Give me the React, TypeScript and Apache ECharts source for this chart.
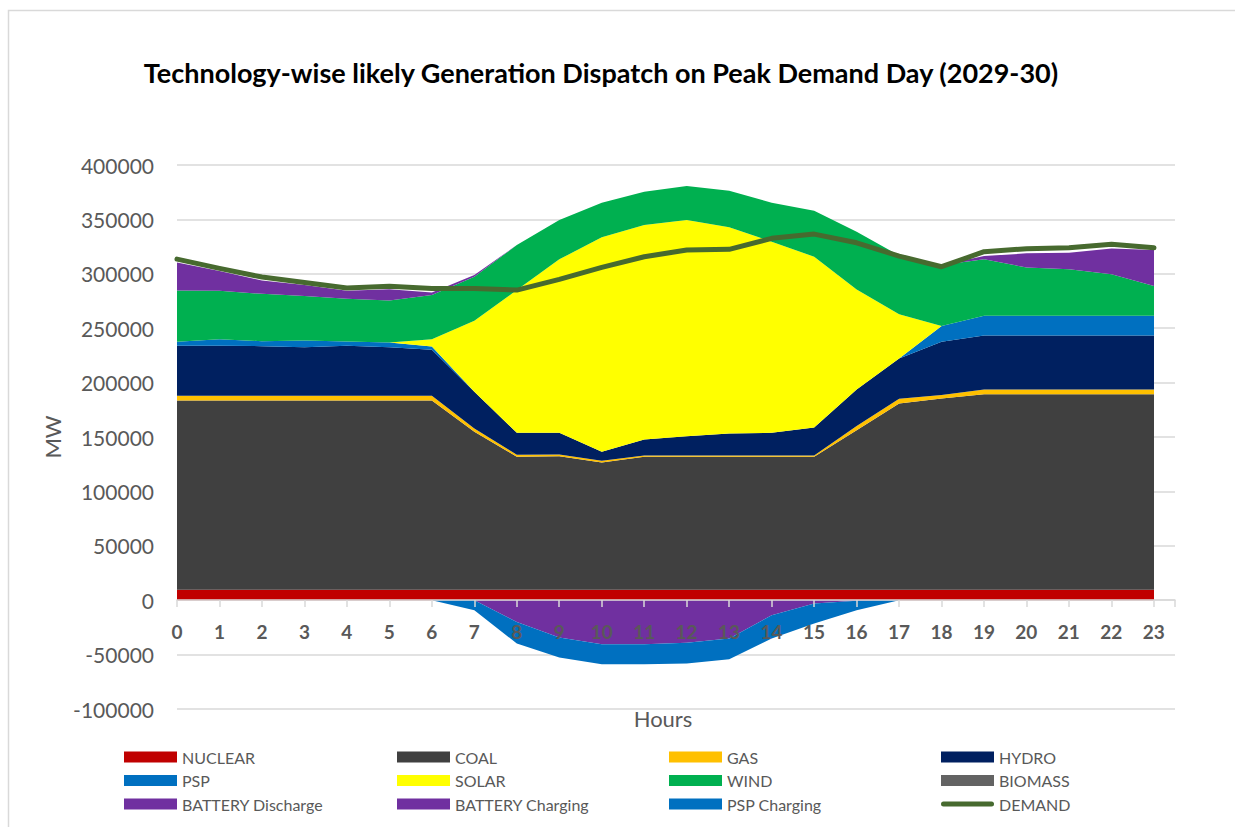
import React, { useEffect, useRef } from "react";
import * as echarts from "echarts";

const hours = [0, 1, 2, 3, 4, 5, 6, 7, 8, 9, 10, 11, 12, 13, 14, 15, 16, 17, 18, 19, 20, 21, 22, 23];

const nuclear = [9500, 9500, 9500, 9500, 9500, 9500, 9500, 9500, 9500, 9500, 9500, 9500, 9500, 9500, 9500, 9500, 9500, 9500, 9500, 9500, 9500, 9500, 9500, 9500];
const coal = [174000, 174000, 174000, 174000, 174000, 174000, 174000, 145300, 122300, 122900, 117100, 122300, 122300, 122300, 122300, 122300, 146800, 171400, 176000, 179900, 179900, 179900, 179900, 179900];
const gas = [4300, 4300, 4300, 4300, 4300, 4300, 4300, 3100, 1800, 1600, 1500, 1300, 1300, 1300, 1300, 1300, 3700, 4200, 3100, 4300, 4300, 4300, 4300, 4300];
const hydro = [46000, 46000, 45700, 44800, 46000, 44800, 42300, 33700, 20200, 19900, 8300, 14700, 17700, 20200, 20800, 25700, 33700, 37100, 49000, 49700, 49700, 49700, 49700, 49700];
const psp = [3700, 6000, 4600, 6000, 4000, 4200, 3000, 0, 0, 0, 0, 0, 0, 0, 0, 0, 0, 0, 14400, 18000, 18000, 18000, 18000, 18000];
const solar = [0, 0, 0, 0, 0, 0, 6800, 65300, 131200, 159400, 197100, 197000, 198600, 189400, 175600, 156900, 91900, 40700, 0, 0, 0, 0, 0, 0];
const wind = [47200, 44700, 43500, 41100, 39200, 38600, 40700, 40500, 41400, 36100, 31800, 30600, 31300, 33700, 35900, 42300, 53000, 54000, 56100, 51900, 44500, 42700, 38300, 27300];
const biomass = [0, 0, 0, 0, 0, 0, 0, 0, 0, 0, 0, 0, 0, 0, 0, 0, 0, 0, 0, 0, 0, 0, 0, 0];
const batteryDischarge = [25700, 18000, 12200, 10100, 7400, 10500, 2100, 1500, 0, 0, 0, 0, 0, 0, 0, 0, 0, 0, 0, 3000, 12900, 15300, 23600, 33100];
const batteryCharging = [0, 0, 0, 0, 0, 0, 0, 0, -20000, -34300, -40500, -40500, -39200, -35200, -13800, -3000, -600, 0, 0, 0, 0, 0, 0, 0];
const pspCharging = [0, 0, 0, 0, 0, 0, 0, -9200, -19800, -18400, -18300, -18300, -19000, -19100, -21400, -18400, -8600, 0, 0, 0, 0, 0, 0, 0];
const demand = [313500, 305000, 297000, 292000, 287000, 288500, 286600, 286600, 285000, 294900, 305900, 315700, 321800, 322500, 332600, 336500, 328500, 316300, 306500, 320300, 323000, 323900, 327100, 323900];

const yMin = -100000;
const yMax = 400000;
const yStep = 50000;

const FONT = "Lato, 'Noto Sans', sans-serif";
const GREY = "#595959";

type AreaDef = { name: string; data: number[]; color: string; stack: string };
const areas: AreaDef[] = [
  { name: "NUCLEAR", data: nuclear, color: "#C00000", stack: "pos" },
  { name: "COAL", data: coal, color: "#404040", stack: "pos" },
  { name: "GAS", data: gas, color: "#FFC000", stack: "pos" },
  { name: "HYDRO", data: hydro, color: "#002060", stack: "pos" },
  { name: "PSP", data: psp, color: "#0070C0", stack: "pos" },
  { name: "SOLAR", data: solar, color: "#FFFF00", stack: "pos" },
  { name: "WIND", data: wind, color: "#00B050", stack: "pos" },
  { name: "BIOMASS", data: biomass, color: "#636363", stack: "pos" },
  { name: "BATTERY Discharge", data: batteryDischarge, color: "#7030A0", stack: "pos" },
  { name: "BATTERY Charging", data: batteryCharging, color: "#7030A0", stack: "neg" },
  { name: "PSP Charging", data: pspCharging, color: "#0070C0", stack: "neg" },
];

const legendCols = [
  ["NUCLEAR", "PSP", "BATTERY Discharge"],
  ["COAL", "SOLAR", "BATTERY Charging"],
  ["GAS", "WIND", "PSP Charging"],
  ["HYDRO", "BIOMASS", "DEMAND"],
];
const legendLeft = [124, 397, 669, 941];

export default function App() {
  const ref = useRef<HTMLDivElement>(null);
  useEffect(() => {
    const chart = echarts.init(ref.current!, null, { renderer: "svg" });
    const series: any[] = areas.map((a) => ({
      name: a.name,
      type: "line",
      stack: a.stack,
      xAxisIndex: 1,
      yAxisIndex: 1,
      data: a.data,
      symbol: "none",
      color: a.color,
      lineStyle: { width: 0, color: a.color },
      itemStyle: { color: a.color },
      areaStyle: { color: a.color, opacity: 1 },
      silent: true,
      z: 2,
    }));
    series.push({
      name: "DEMAND",
      type: "line",
      xAxisIndex: 1,
      yAxisIndex: 1,
      data: demand,
      symbol: "none",
      color: "#476A2F",
      lineStyle: { width: 5, color: "#476A2F", cap: "round", join: "round" },
      itemStyle: { color: "#476A2F" },
      silent: true,
      z: 4,
    });
    const option: any = {
      animation: false,
      backgroundColor: "#ffffff",
      title: {
        text: "Technology-wise likely Generation Dispatch on Peak Demand Day (2029-30)",
        left: 596,
        textAlign: "center",
        top: 54,
        textStyle: { fontSize: 27, fontWeight: "bold", color: "#000000", fontFamily: FONT },
      },
      grid: [
        { left: 177, right: 60, top: 165, bottom: 118, containLabel: false },
        { left: 177, right: 81, top: 165, bottom: 118, containLabel: false },
      ],
      xAxis: [
        {
          gridIndex: 0,
          type: "value",
          min: 0,
          max: 23.5,
          interval: 1,
          z: 5,
          offset: -109,
          axisLine: { onZero: false, lineStyle: { color: "#d9d9d9", width: 1.5 } },
          axisTick: { show: true, length: 7, lineStyle: { color: "#d9d9d9", width: 1.5 } },
          axisLabel: {
            formatter: (v: number) => (Number.isInteger(v) && v <= 23 ? String(v) : ""),
            fontWeight: "bold",
            fontSize: 19,
            color: GREY,
            margin: 22,
            fontFamily: FONT,
          },
          splitLine: { show: false },
        },
        {
          gridIndex: 1,
          type: "category",
          data: hours.map(String),
          boundaryGap: false,
          show: false,
        },
      ],
      yAxis: [
        {
          gridIndex: 0,
          type: "value",
          min: yMin,
          max: yMax,
          interval: yStep,
          axisLine: { show: false },
          axisTick: { show: false },
          axisLabel: { formatter: (v: number) => String(v), fontSize: 21, color: GREY, margin: 23, fontFamily: FONT },
          splitLine: { lineStyle: { color: "#d9d9d9", width: 1.5 } },
        },
        {
          gridIndex: 1,
          type: "value",
          min: yMin,
          max: yMax,
          interval: yStep,
          show: false,
          splitLine: { show: false },
        },
      ],
      legend: legendCols.map((names, ci) => ({
        orient: "vertical",
        left: legendLeft[ci],
        top: 749,
        padding: 0,
        itemWidth: 53,
        itemHeight: 11,
        itemGap: 7.5,
        icon: "rect",
        selectedMode: false,
        itemStyle: { borderWidth: 0 },
        textStyle: { fontSize: 16, color: GREY, lineHeight: 16, fontFamily: FONT },
        data: names.map((n) =>
          n === "DEMAND"
            ? { name: n, icon: "path://M2.5,0 L50.5,0 A2.5,2.5 0 0 1 50.5,5 L2.5,5 A2.5,2.5 0 0 1 2.5,0 Z" }
            : { name: n }
        ),
      })),
      graphic: [
        {
          type: "rect",
          shape: { x: 8.5, y: 10.5, width: 1300, height: 900 },
          style: { fill: "none", stroke: "#d9d9d9", lineWidth: 1.5 },
          silent: true,
        },
        {
          type: "text",
          x: 52,
          y: 437,
          rotation: Math.PI / 2,
          style: { text: "MW", fontSize: 22, fill: GREY, fontFamily: FONT, textAlign: "center", textVerticalAlign: "middle" },
        },
        {
          type: "text",
          x: 663,
          y: 718,
          style: { text: "Hours", fontSize: 22, fill: GREY, fontFamily: FONT, textAlign: "center", textVerticalAlign: "middle" },
        },
      ],
      series,
    };
    chart.setOption(option);
    return () => chart.dispose();
  }, []);
  return <div ref={ref} style={{ position: "fixed", left: 0, top: 0, width: 1235, height: 827 }} />;
}
